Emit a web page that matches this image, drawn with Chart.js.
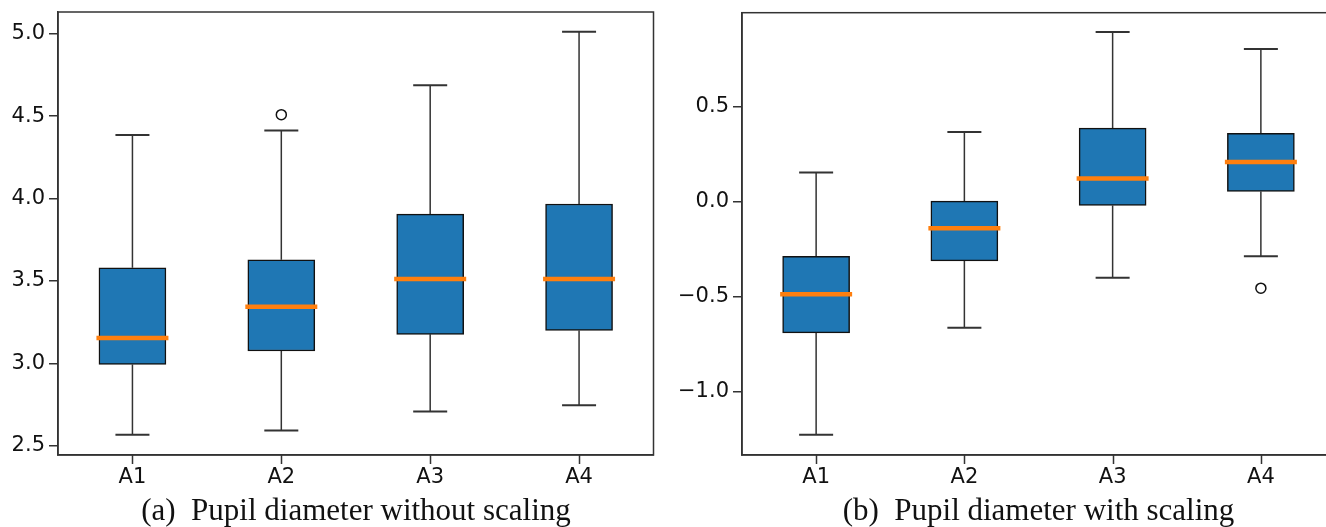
<!DOCTYPE html>
<html>
<head>
<meta charset="utf-8">
<script src="https://cdn.jsdelivr.net/npm/chart.js@4.4.1/dist/chart.umd.min.js"></script>
<style>
    html, body { margin: 0; padding: 0; background: #ffffff; overflow: hidden; }
    body { width: 1326px; height: 527px; position: relative; }
    canvas { position: absolute; top: 0; }
    #chartRaw { left: 0; }
    #chartScaled { left: 680px; }
    .caption {
        position: absolute;
        top: 494px;
        line-height: 31px;
        font-family: "Liberation Serif", "Times New Roman", serif;
        font-size: 31px;
        color: #111;
        text-align: center;
        white-space: pre;
    }
</style>
</head>
<body>
<canvas id="chartRaw" width="660" height="527"></canvas>
<canvas id="chartScaled" width="680" height="527"></canvas>
<div class="caption" style="left:58px; width:596px;">(a)  Pupil diameter without scaling</div>
<div class="caption" style="left:742px; width:593px;">(b)  Pupil diameter with scaling</div>
<script>
// Categories
const CATEGORIES = ["A1", "A2", "A3", "A4"];

// (a) without scaling
const RAW_LOW = [2.567, 2.592, 2.708, 2.746];
const RAW_Q1 = [2.993, 3.075, 3.176, 3.200];
const RAW_MEDIAN = [3.154, 3.343, 3.512, 3.512];
const RAW_Q3 = [3.580, 3.628, 3.906, 3.967];
const RAW_HIGH = [4.385, 4.413, 4.688, 5.012];
const RAW_OUTLIER_CATS = ["A2"];
const RAW_OUTLIER_VALUES = [4.509];
const RAW_TICKS = [2.5, 3.0, 3.5, 4.0, 4.5, 5.0];

// (b) with scaling
const SCALED_LOW = [-1.228, -0.664, -0.401, -0.288];
const SCALED_Q1 = [-0.692, -0.312, -0.020, 0.053];
const SCALED_MEDIAN = [-0.488, -0.140, 0.121, 0.209];
const SCALED_Q3 = [-0.289, 0.002, 0.387, 0.360];
const SCALED_HIGH = [0.153, 0.366, 0.893, 0.804];
const SCALED_OUTLIER_CATS = ["A4"];
const SCALED_OUTLIER_VALUES = [-0.456];
const SCALED_TICKS = [-1.0, -0.5, 0.0, 0.5];

// Colors
const COLOR_BOX = "#1f77b4";
const COLOR_MEDIAN = "#ff7f0e";
const COLOR_LINE = "#333333";
const COLOR_TEXT = "#111111";

const TICK_FONT = { family: "'DejaVu Sans', sans-serif", size: 21 };

// Draws whiskers, caps, medians, x tick marks and the frame using the chart's own scales
const boxPlotPlugin = {
    id: "boxPlot",
    beforeDatasetsDraw(chart, args, opts) {
        const ctx = chart.ctx;
        const x = chart.scales.x;
        const y = chart.scales.y;
        ctx.save();
        ctx.strokeStyle = COLOR_LINE;
        for (let i = 0; i < opts.low.length; i++) {
            const cx = x.getPixelForValue(i);
            const capHalf = opts.capWidth / 2;
            ctx.lineWidth = 1.5;
            ctx.beginPath();
            ctx.moveTo(cx, y.getPixelForValue(opts.low[i]));
            ctx.lineTo(cx, y.getPixelForValue(opts.q1[i]));
            ctx.moveTo(cx, y.getPixelForValue(opts.q3[i]));
            ctx.lineTo(cx, y.getPixelForValue(opts.high[i]));
            ctx.stroke();
            ctx.lineWidth = 2;
            ctx.beginPath();
            ctx.moveTo(cx - capHalf, y.getPixelForValue(opts.low[i]));
            ctx.lineTo(cx + capHalf, y.getPixelForValue(opts.low[i]));
            ctx.moveTo(cx - capHalf, y.getPixelForValue(opts.high[i]));
            ctx.lineTo(cx + capHalf, y.getPixelForValue(opts.high[i]));
            ctx.stroke();
        }
        ctx.restore();
    },
    afterDatasetsDraw(chart, args, opts) {
        const ctx = chart.ctx;
        const x = chart.scales.x;
        const y = chart.scales.y;
        ctx.save();
        ctx.strokeStyle = COLOR_MEDIAN;
        ctx.lineWidth = 4.5;
        for (let i = 0; i < opts.median.length; i++) {
            const cx = x.getPixelForValue(i);
            const py = y.getPixelForValue(opts.median[i]);
            ctx.beginPath();
            ctx.moveTo(cx - opts.medianWidth / 2, py);
            ctx.lineTo(cx + opts.medianWidth / 2, py);
            ctx.stroke();
        }
        ctx.restore();
    },
    afterDraw(chart) {
        const a = chart.chartArea;
        const ctx = chart.ctx;
        const x = chart.scales.x;
        ctx.save();
        ctx.strokeStyle = COLOR_LINE;
        ctx.lineWidth = 1.5;
        ctx.strokeRect(a.left, a.top, a.right - a.left, a.bottom - a.top);
        // x tick marks under each category
        ctx.beginPath();
        for (let i = 0; i < CATEGORIES.length; i++) {
            const px = Math.round(x.getPixelForValue(i)) + 0.5;
            ctx.moveTo(px, a.bottom);
            ctx.lineTo(px, a.bottom + 9);
        }
        ctx.stroke();
        ctx.restore();
    }
};

// Creates one box plot panel
function createBoxChart(canvasId, stats, outlierCats, outlierValues, yTicks, yMin, yMax, yAxisWidth, padTop, padRight) {
    const boxes = [];
    for (let i = 0; i < CATEGORIES.length; i++) {
        boxes.push([stats.q1[i], stats.q3[i]]);
    }
    const outliers = [];
    for (let i = 0; i < outlierCats.length; i++) {
        outliers.push({ x: outlierCats[i], y: outlierValues[i] });
    }

    return new Chart(canvasId, {
        type: "bar",
        data: {
            labels: CATEGORIES,
            datasets: [{
                data: boxes,
                backgroundColor: COLOR_BOX,
                borderColor: "#111111",
                borderWidth: 1.5,
                borderSkipped: false,
                barThickness: 67,
                order: 2
            },
            {
                type: "scatter",
                data: outliers,
                showLine: false,
                pointStyle: "circle",
                pointRadius: 5,
                pointBorderWidth: 1.5,
                pointBorderColor: "#111111",
                pointBackgroundColor: "rgba(0,0,0,0)",
                order: 1
            }]
        },
        options: {
            responsive: false,
            animation: false,
            layout: {
                padding: { top: padTop, right: padRight, left: 0, bottom: 0 }
            },
            plugins: {
                legend: { display: false },
                tooltip: { enabled: false },
                title: { display: false },
                boxPlot: {
                    low: stats.low,
                    q1: stats.q1,
                    median: stats.median,
                    q3: stats.q3,
                    high: stats.high,
                    capWidth: 34,
                    medianWidth: 72
                }
            },
            scales: {
                x: {
                    type: "category",
                    offset: true,
                    afterFit: (scale) => {
                        scale.height = 72;
                        scale.paddingLeft = 0;
                        scale.paddingRight = 0;
                    },
                    grid: {
                        display: true,
                        drawOnChartArea: false,
                        drawTicks: true,
                        tickLength: 9,
                        color: "rgba(0,0,0,0)"
                    },
                    border: { display: true, color: COLOR_LINE, width: 1.5 },
                    ticks: {
                        font: TICK_FONT,
                        color: COLOR_TEXT,
                        padding: 1,
                        maxRotation: 0
                    }
                },
                y: {
                    type: "linear",
                    min: yMin,
                    max: yMax,
                    afterFit: (scale) => {
                        scale.width = yAxisWidth;
                        scale.paddingTop = 0;
                        scale.paddingBottom = 0;
                    },
                    afterBuildTicks: (scale) => {
                        scale.ticks = yTicks.map(v => ({ value: v }));
                    },
                    grid: {
                        display: true,
                        drawOnChartArea: false,
                        drawTicks: true,
                        tickLength: 9,
                        color: COLOR_LINE,
                        lineWidth: 1.5
                    },
                    border: { display: true, color: COLOR_LINE, width: 1.5 },
                    ticks: {
                        font: TICK_FONT,
                        color: COLOR_TEXT,
                        padding: 4,
                        callback: (value) => {
                            const s = Number(value).toFixed(1);
                            return s.replace("-", "\u2212");
                        }
                    }
                }
            }
        },
        plugins: [boxPlotPlugin]
    });
}

createBoxChart("chartRaw",
    { low: RAW_LOW, q1: RAW_Q1, median: RAW_MEDIAN, q3: RAW_Q3, high: RAW_HIGH },
    RAW_OUTLIER_CATS, RAW_OUTLIER_VALUES, RAW_TICKS,
    2.444, 5.132, 58, 12, 5.5);

createBoxChart("chartScaled",
    { low: SCALED_LOW, q1: SCALED_Q1, median: SCALED_MEDIAN, q3: SCALED_Q3, high: SCALED_HIGH },
    SCALED_OUTLIER_CATS, SCALED_OUTLIER_VALUES, SCALED_TICKS,
    -1.335, 0.995, 62, 12.7, 25);
</script>
</body>
</html>
